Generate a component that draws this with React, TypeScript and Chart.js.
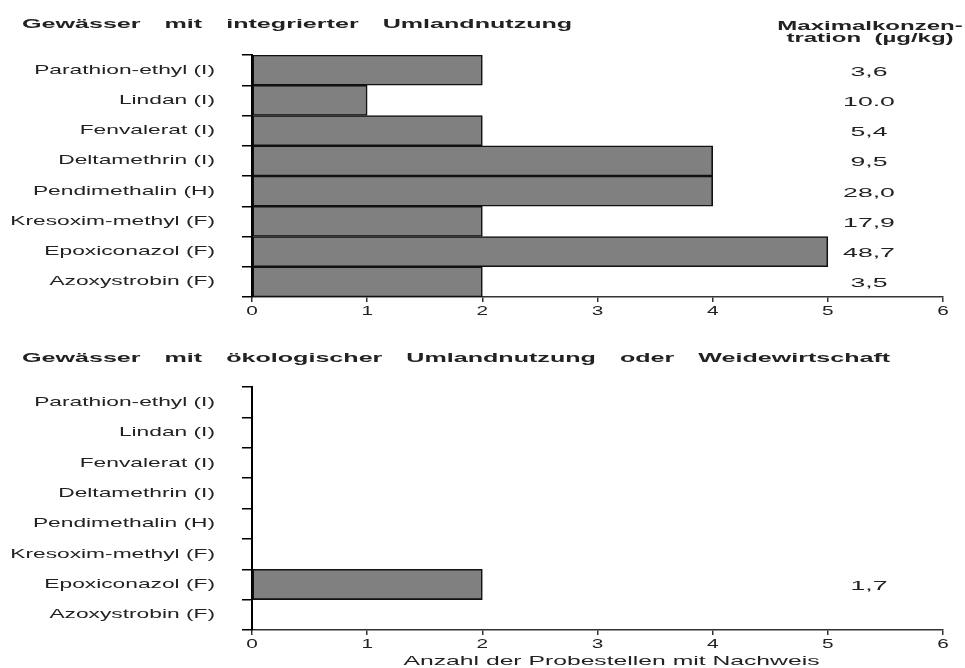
import React, { useEffect, useRef } from "react";
import { Chart, registerables } from "chart.js";

Chart.register(...registerables);

const categories = [
  "Parathion-ethyl (I)",
  "Lindan (I)",
  "Fenvalerat (I)",
  "Deltamethrin (I)",
  "Pendimethalin (H)",
  "Kresoxim-methyl (F)",
  "Epoxiconazol (F)",
  "Azoxystrobin (F)",
];
const integratedCounts = [2, 1, 2, 4, 4, 2, 5, 2];
const integratedMax = ["3,6", "10.0", "5,4", "9,5", "28,0", "17,9", "48,7", "3,5"];
const ecologicalCounts = [0, 0, 0, 0, 0, 0, 2, 0];
const ecologicalMax = ["", "", "", "", "", "", "1,7", ""];
const xTicks = [0, 1, 2, 3, 4, 5, 6];
const titleTop = "Gewässer mit integrierter Umlandnutzung";
const titleBottom = "Gewässer mit ökologischer Umlandnutzung oder Weidewirtschaft";
const headerLines = ["Maximalkonzen-", "tration  (µg/kg)"];
const xAxisTitle = "Anzahl der Probestellen mit Nachweis";

const FONT = "'Liberation Sans', Arial, sans-serif";
const TEXT = "#222";

function drawText(
  ctx: CanvasRenderingContext2D,
  text: string,
  x: number,
  y: number,
  font: string,
  sx: number,
  align: CanvasTextAlign,
  color = TEXT
) {
  ctx.save();
  ctx.font = font;
  ctx.fillStyle = color;
  ctx.textBaseline = "middle";
  ctx.textAlign = align;
  ctx.translate(x, y);
  ctx.scale(sx, 1);
  ctx.fillText(text, 0, 0);
  ctx.restore();
}

function drawTitle(ctx: CanvasRenderingContext2D, title: string, x0: number, y: number) {
  const font = `bold 13px ${FONT}`;
  const sx = 1.93;
  ctx.save();
  ctx.font = font;
  let x = x0;
  for (const w of title.split(" ")) {
    drawText(ctx, w, x, y, font, sx, "left");
    ctx.font = font;
    x += ctx.measureText(w).width * sx + 24;
  }
  ctx.restore();
}

type PanelProps = {
  counts: number[];
  maxima: string[];
  title: string;
  padTop: number;
  axisH: number;
  height: number;
  showHeader: boolean;
  showXTitle: boolean;
};

function Panel(props: PanelProps) {
  const ref = useRef<HTMLCanvasElement | null>(null);
  useEffect(() => {
    if (!ref.current) return;
    const textPlugin = {
      id: "texts",
      afterDraw(chart: any) {
        const ctx: CanvasRenderingContext2D = chart.ctx;
        const area = chart.chartArea;
        const ys = chart.scales.y;
        const xs = chart.scales.x;
        drawTitle(ctx, props.title, 22, 24);
        if (props.showHeader) {
          const f = `bold 12px ${FONT}`;
          drawText(ctx, headerLines[0], area.right - 73, 27, f, 2.0, "center");
          drawText(ctx, headerLines[1], area.right - 73, 39, f, 2.0, "center");
        }
        categories.forEach((c, i) => {
          const y = ys.getPixelForValue(i);
          drawText(ctx, c, area.left - 37, y, `13px ${FONT}`, 1.75, "right");
          if (props.maxima[i]) {
            drawText(ctx, props.maxima[i], area.right - 74, y + 2, `13px ${FONT}`, 2.05, "center");
          }
        });
        xTicks.forEach((t) => {
          drawText(ctx, String(t), xs.getPixelForValue(t), area.bottom + 14, `13px ${FONT}`, 1.6, "center");
        });
        if (props.showXTitle) {
          drawText(ctx, xAxisTitle, (area.left + area.right) / 2 + 14, area.bottom + 31, `13px ${FONT}`, 1.9, "center");
        }
      },
    };
    const chart = new Chart(ref.current, {
      type: "bar",
      data: {
        labels: categories,
        datasets: [
          {
            data: props.counts,
            backgroundColor: "#808080",
            borderColor: "#111",
            borderWidth: 1.6,
            borderSkipped: false,
            barPercentage: 1,
            categoryPercentage: 1,
          },
        ],
      },
      options: {
        indexAxis: "y",
        animation: false,
        responsive: false,
        layout: { padding: { top: props.padTop, right: 22, left: 0, bottom: 0 } },
        plugins: { legend: { display: false }, tooltip: { enabled: false } },
        scales: {
          x: {
            type: "linear",
            min: 0,
            max: 6,
            ticks: { display: false, stepSize: 1 },
            grid: { drawOnChartArea: false, drawTicks: true, tickLength: 5, color: "#333", lineWidth: 1.5 },
            border: { display: true, color: "#333", width: 1.5 },
            afterFit(s: any) {
              s.height = props.axisH;
            },
          },
          y: {
            type: "category",
            ticks: { display: false },
            grid: { drawOnChartArea: false, drawTicks: true, tickLength: 10, color: "#000", lineWidth: 1.5, offset: true },
            border: { display: true, color: "#000", width: 2 },
            afterFit(s: any) {
              s.width = 252;
            },
          },
        },
      },
      plugins: [textPlugin],
    } as any);
    return () => chart.destroy();
  }, []);
  return <canvas ref={ref} width={965} height={props.height} style={{ display: "block", width: 965, height: props.height }} />;
}

export default function App() {
  return (
    <div style={{ position: "absolute", left: 0, top: 0, width: 965, height: 668, background: "#fff" }}>
      <Panel counts={integratedCounts} maxima={integratedMax} title={titleTop} padTop={55} axisH={37} height={334} showHeader={true} showXTitle={false} />
      <Panel counts={ecologicalCounts} maxima={ecologicalMax} title={titleBottom} padTop={53} axisH={38} height={334} showHeader={false} showXTitle={true} />
    </div>
  );
}
